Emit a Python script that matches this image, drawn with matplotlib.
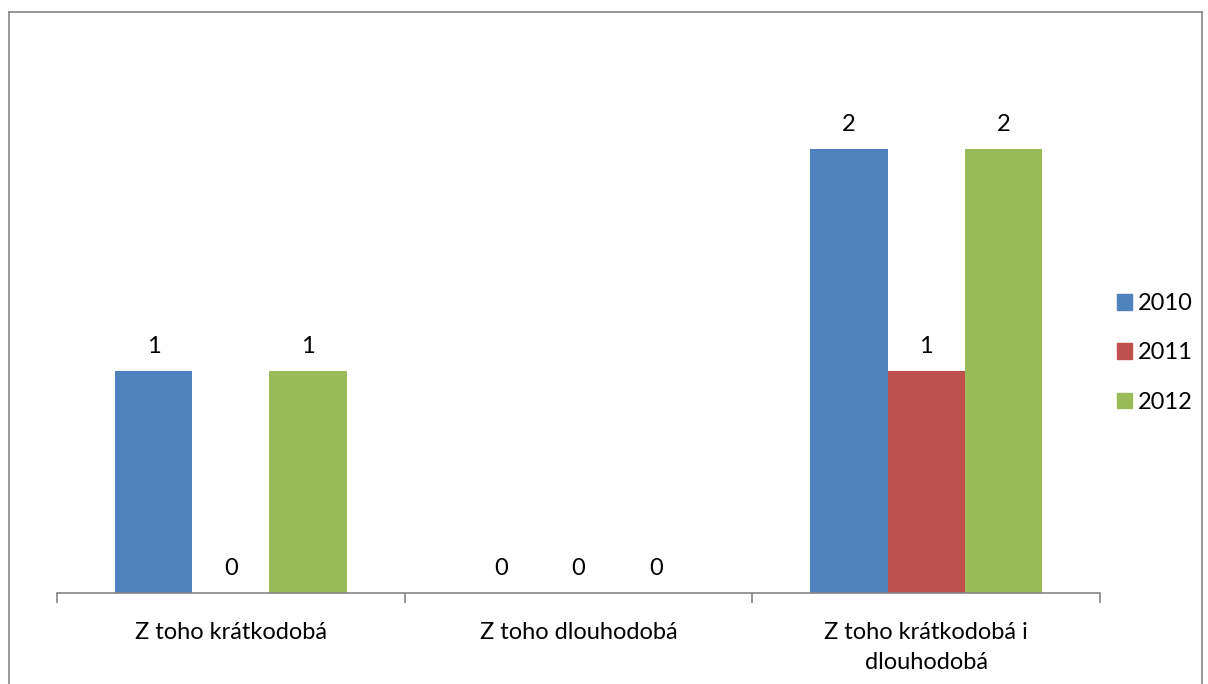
import matplotlib
matplotlib.use("Agg")
import matplotlib.pyplot as plt
from matplotlib.lines import Line2D
import numpy as np

categories = ["Z toho krátkodobá", "Z toho dlouhodobá", "Z toho krátkodobá i\ndlouhodobá"]
series_names = ["2010", "2011", "2012"]
v2010 = [1, 0, 2]
v2011 = [0, 0, 1]
v2012 = [1, 0, 2]
colors = ["#4F81BD", "#C0504D", "#9BBB59"]

plt.rcParams['font.family'] = ['Lato', 'DejaVu Sans']
FS = 17

W, H = 1208, 684
fig = plt.figure(figsize=(W / 100, H / 100), dpi=100)
ax = fig.add_axes([57 / W, (H - 593) / H, (1100 - 57) / W, (593 - 38) / H])

x = np.arange(len(categories))
bw = 1 / 4.5
for i, (name, vals) in enumerate(zip(series_names, [v2010, v2011, v2012])):
    pos = x + (i - 1) * bw
    ax.bar(pos, vals, width=bw, color=colors[i], label=name, zorder=2)
    for p, v in zip(pos, vals):
        ax.annotate(str(v), (p, v), xytext=(0, 17.5), textcoords="offset points",
                    ha="center", va="center", fontsize=FS, color="black")

ax.set_xlim(-0.5, 2.5)
ax.set_ylim(0, 2.5)
for s in ["top", "right", "left"]:
    ax.spines[s].set_visible(False)
ax.spines["bottom"].set_color("#868686")
ax.spines["bottom"].set_linewidth(1.2)
ax.set_yticks([])
ax.set_xticks([-0.5, 0.5, 1.5, 2.5], minor=False)
ax.set_xticklabels([])
ax.tick_params(axis="x", which="major", length=7, color="#868686", width=1.2)
ax.set_xticks(x, minor=True)
ax.set_xticklabels(categories, minor=True, fontsize=FS)
ax.tick_params(axis="x", which="minor", length=0, pad=21)
for lab in ax.get_xticklabels(minor=True):
    lab.set_verticalalignment("top")
    lab.set_linespacing(1.5)

handles = [plt.Rectangle((0, 0), 1, 1, color=c) for c in colors]
fig.legend(handles, series_names, loc="center left", bbox_to_anchor=(1096 / W, 1 - 353 / H),
           frameon=False, fontsize=FS, handlelength=0.64, handleheight=0.64,
           handletextpad=0.25, labelspacing=1.2)

# chart border
bx0, by0, bx1 = 9 / W, 1 - 12 / H, 1202 / W
fig.add_artist(Line2D([bx0, bx0], [0, by0], transform=fig.transFigure, color="#868686", lw=1.2))
fig.add_artist(Line2D([bx0, bx1], [by0, by0], transform=fig.transFigure, color="#868686", lw=1.2))
fig.add_artist(Line2D([bx1, bx1], [0, by0], transform=fig.transFigure, color="#868686", lw=1.2))

fig.savefig("out.png", dpi=100)
